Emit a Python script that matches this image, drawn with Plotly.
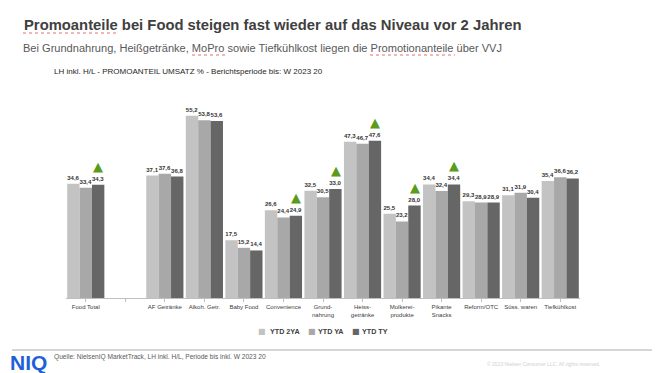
import plotly.graph_objects as go

categories = ["Food Total", " ", "AF Getränke", "Alkoh. Getr.", "Baby Food", "Convenience",
              "Grund-<br>nahrung", "Heiss-<br>getränke", "Molkerei-<br>produkte", "Pikante<br>Snacks",
              "Reform/OTC", "Süss. waren", "Tiefkühlkost"]
ytd_2ya = [34.6, None, 37.1, 55.2, 17.5, 26.6, 32.5, 47.3, 25.5, 34.4, 29.3, 31.1, 35.4]
ytd_ya = [33.4, None, 37.6, 53.8, 15.2, 24.4, 30.5, 46.7, 23.2, 32.4, 28.9, 31.9, 36.6]
ytd_ty = [34.3, None, 36.8, 53.6, 14.4, 24.9, 33.0, 47.6, 28.0, 34.4, 28.9, 30.4, 36.2]
up_flags = [True, False, False, False, False, True, True, True, True, True, False, False, False]
series_names = ["YTD 2YA", "YTD YA", "YTD TY"]
series_colors = ["#c3c3c3", "#a8a8a8", "#666666"]

title_text = "<b>Promoanteile bei Food steigen fast wieder auf das Niveau vor 2 Jahren</b>"
subtitle_text = "Bei Grundnahrung, Heißgetränke, MoPro sowie Tiefkühlkost liegen die Promotionanteile über VVJ"
header_text = "LH inkl. H/L - PROMOANTEIL UMSATZ % - Berichtsperiode bis: W 2023 20"
source_text = "Quelle: NielsenIQ MarketTrack, LH inkl. H/L, Periode bis inkl. W 2023 20"
copyright_text = "© 2023 Nielsen Consumer LLC. All rights reserved."


def fmt(v):
    return "" if v is None else f"{v:.1f}".replace(".", ",")


FONT = "Liberation Sans, Arial, sans-serif"
W, H = 660, 373
ML, MR, MT, MB = 66, 80, 90, 75
PW, PH = W - ML - MR, H - MT - MB


def px(x):
    return (x - ML) / PW


def py(y):
    return (H - MB - y) / PH


fig = go.Figure()
for name, vals, col in zip(series_names, [ytd_2ya, ytd_ya, ytd_ty], series_colors):
    fig.add_trace(go.Bar(
        x=categories, y=vals, name=name, marker_color=col, marker_line_width=0,
        text=[fmt(v) for v in vals], texttemplate="<b>%{text}</b>", textposition="outside",
        textfont=dict(size=6, color="#333333", family=FONT), cliponaxis=False,
        showlegend=False,
    ))

for cat, v, up in zip(categories, ytd_ty, up_flags):
    if up:
        fig.add_annotation(x=cat, y=v, xref="x", yref="y", text="▲", showarrow=False,
                           yanchor="bottom", xshift=12.5, yshift=9,
                           font=dict(size=13, color="#5b9a1a", family="DejaVu Sans"))

fig.update_layout(
    width=W, height=H, plot_bgcolor="white", paper_bgcolor="white",
    margin=dict(l=ML, r=MR, t=MT, b=MB),
    barmode="group", bargap=0.06, bargroupgap=0,
    font=dict(family=FONT, color="#404040"),
    showlegend=False,
    xaxis=dict(showline=True, linecolor="#bfbfbf", linewidth=1, ticks="outside", ticklen=3,
               tickcolor="#bfbfbf", tickfont=dict(size=6, color="#404040", family=FONT),
               tickangle=0, showgrid=False, automargin=False),
    yaxis=dict(range=[0, 63], visible=False, showgrid=False),
)

# compact legend as in the reference
legend_sq_x = [256, 306, 350]
legend_tx_x = [268, 316, 360]
for name, col, sx, tx in zip(series_names, series_colors, legend_sq_x, legend_tx_x):
    fig.add_annotation(xref="paper", yref="paper", x=px(sx), y=py(331), xanchor="left",
                       yanchor="middle", showarrow=False, text="■",
                       font=dict(size=8, color=col, family="DejaVu Sans"))
    fig.add_annotation(xref="paper", yref="paper", x=px(tx), y=py(331), xanchor="left",
                       yanchor="middle", showarrow=False, text=f"<b>{name}</b>",
                       font=dict(size=7.2, color="#404040", family=FONT))

texts = [
    dict(x=22, y=25, text=title_text, size=14.8, color="#404040"),
    dict(x=21, y=48, text=subtitle_text, size=11.05, color="#595959"),
    dict(x=52, y=71, text=header_text, size=8.0, color="#262626"),
    dict(x=52, y=357, text=source_text, size=6.6, color="#595959"),
    dict(x=485, y=364, text=copyright_text, size=5, color="#d0d0d0"),
    dict(x=8, y=362, text="<b>NIQ</b>", size=21, color="#1f5fd8"),
]
for a in texts:
    fig.add_annotation(xref="paper", yref="paper", x=px(a["x"]), y=py(a["y"]),
                       xanchor="left", yanchor="middle", text=a["text"], showarrow=False,
                       font=dict(size=a["size"], color=a["color"], family=FONT))

# spell-check squiggles as in the reference
for x0, x1, y in [(23, 118, 33), (192, 226, 55), (370, 455, 55)]:
    fig.add_shape(type="line", xref="paper", yref="paper", x0=px(x0), x1=px(x1), y0=py(y), y1=py(y),
                  line=dict(color="#e07070", width=1, dash="dot"))

fig.add_shape(type="line", xref="paper", yref="paper",
              x0=px(12), x1=px(652), y0=py(350), y1=py(350),
              line=dict(color="#c8c8c8", width=1.5))

fig.write_html("out.html", config={"displayModeBar": False},
               post_script="document.body.style.margin='0';document.body.style.overflow='hidden';")
